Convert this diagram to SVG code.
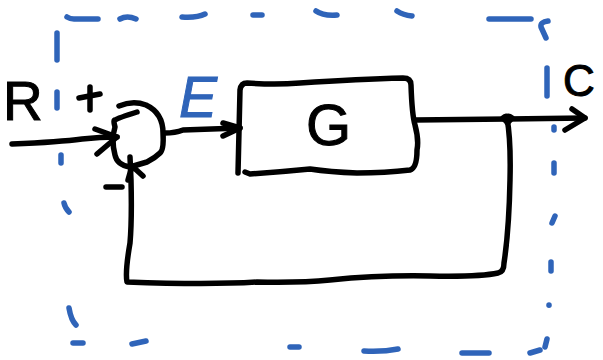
<svg xmlns="http://www.w3.org/2000/svg" width="603" height="360" viewBox="0 0 603 360">
<style>
.k{fill:none;stroke:#000;stroke-width:5.5;stroke-linecap:round;stroke-linejoin:round}
.b{fill:none;stroke:#2f64b9;stroke-width:5.5;stroke-linecap:round;stroke-linejoin:round}
text{font-family:"Liberation Sans",Arial,sans-serif}
.t{fill:#000;stroke:#000;stroke-width:1}
</style>
<rect width="603" height="360" fill="#fff"/>
<g id="boundary" class="b">
<path d="M67 17Q70 19 74 19L98 19"/>
<path d="M120 19Q127 15 136 19"/>
<path d="M182 17Q197 18 205 14"/>
<path d="M253 15H262"/>
<path d="M316 11Q323 16 337 15"/>
<path d="M397 11Q403 15 412 16"/>
<path d="M489 19H531"/>
<path d="M548 21Q540 22 541 27L546 38"/>
<path d="M547 68V96"/>
<path d="M554 127V130"/>
<path d="M554 163V173"/>
<path d="M555 216L552 223"/>
<path d="M551 262V271"/>
<path d="M549 305V305.2"/>
<path d="M547 339L545 347"/>
<path d="M540 350L530 353"/>
<path d="M462 353H489"/>
<path d="M364 351Q383 352 398 349"/>
<path d="M290 347H299"/>
<path d="M132 344L146 341"/>
<path d="M73 343H83"/>
<path d="M69 308Q71 320 76 325"/>
<path d="M64 203Q65 208 69 212"/>
<path d="M61 155V163"/>
<path d="M57 92V108"/>
<path d="M57 33V60"/>
</g>
<g id="connectors" class="k">
<path d="M12 144Q60 142 82 139Q100 137 117 137"/>
<path d="M95 129L117 137L97 154"/>
<path d="M165 133Q175 133 183 130Q210 129 240 128"/>
<path d="M223 123L240 128L223 136"/>
<path d="M415 120L507 119L585 118"/>
<path d="M572 109L585 118L565 130"/>
<path d="M507 118Q511 140 510 180Q509 230 504 263Q504 272 498 273Q480 277 430 276Q380 275 330 280Q300 283 257 282Q210 285 127 282Q125 272 130 243Q132 220 131 180L130 157"/>
<path d="M128 180L132 166L143 176"/>
<path d="M503 118Q507 114 507 119Q507 114 512 118Q507 124 507 122Z" fill="#000"/>
</g>
<g id="sum" class="k">
<path d="M119 106Q133 100 146 105Q163 113 163 133Q164 150 160 153Q155 158 147 162L130 167Q117 165 115 155Q111 140 115 127Q113 120 115 120Q118 118 137 112"/>
<path d="M79 98L100 94"/>
<path d="M90 87V110"/>
<path d="M106 187H122"/>
</g>
<g id="block-g" class="k">
<path d="M238 173L240 90Q241 83 247 83Q275 85 300 83Q360 79 403 78Q411 78 411 85Q412 115 415 125Q419 140 417 150Q417 168 410 170Q385 173 357 173Q330 172 310 169Q280 172 250 174L245 172"/>
</g>
<g id="labels">
<text class="t" x="3" y="120" font-size="55">R</text>
<text x="179" y="117" font-size="57" font-style="italic" fill="#2f64b9" stroke="#2f64b9">E</text>
<text class="t" x="306" y="145" font-size="58">G</text>
<text class="t" x="563" y="96" font-size="44">C</text>
</g>
</svg>
